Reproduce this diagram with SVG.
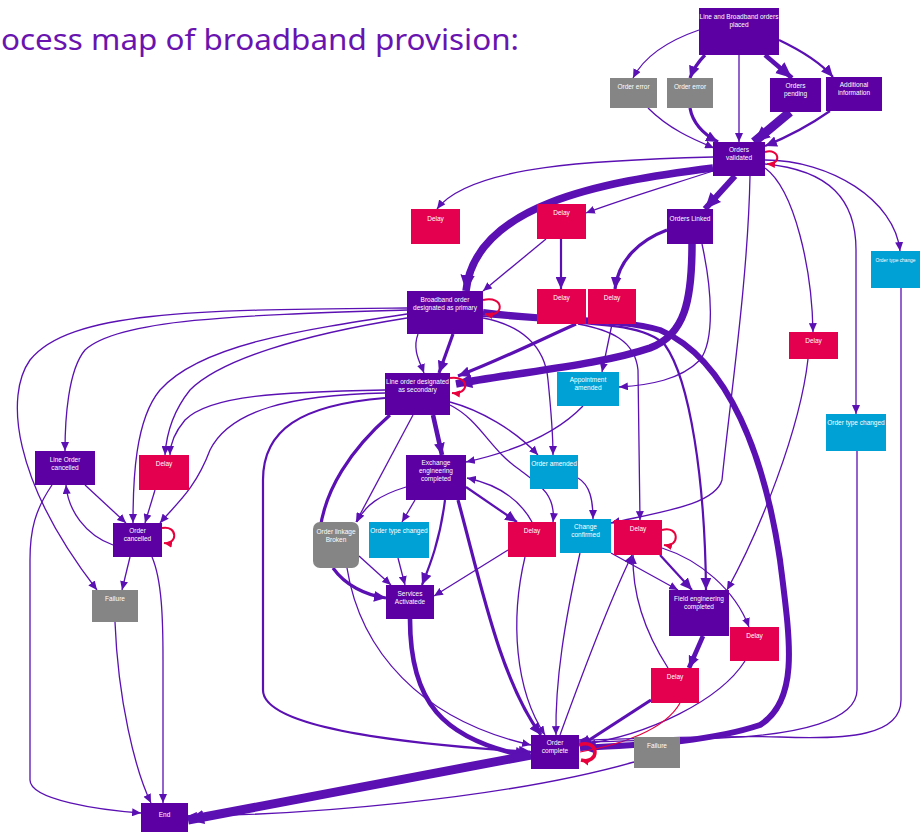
<svg xmlns="http://www.w3.org/2000/svg" width="921" height="832" viewBox="0 0 921 832">
<style>
.p{fill:#5c00a3}.r{fill:#e4004e}.c{fill:#00a1d4}.g{fill:#858585}
.t{font-family:"Liberation Sans","Open Sans",sans-serif;font-size:6.5px;fill:#ffffff;text-anchor:middle}
.e{fill:none;stroke:#5a10b2}
.w1{stroke-width:1.3}.w2{stroke-width:2.2}.w3{stroke-width:3.2}.w4{stroke-width:4.6}.w5{stroke-width:6}.w6{stroke-width:7.5}.w7{stroke-width:9}
.lp{fill:none;stroke:#e8003d;stroke-width:2}
</style>
<defs>
<marker id="ms" viewBox="0 0 10 9" refX="10" refY="4.5" markerWidth="9" markerHeight="8" markerUnits="userSpaceOnUse" orient="auto"><path d="M0,0L10,4.5L0,9z" fill="#5a10b2"/></marker>
<marker id="mm" viewBox="0 0 10 9" refX="10" refY="4.5" markerWidth="12" markerHeight="11" markerUnits="userSpaceOnUse" orient="auto"><path d="M0,0L10,4.5L0,9z" fill="#5a10b2"/></marker>
<marker id="ml" viewBox="0 0 10 9" refX="10" refY="4.5" markerWidth="16" markerHeight="15" markerUnits="userSpaceOnUse" orient="auto"><path d="M0,0L10,4.5L0,9z" fill="#5a10b2"/></marker>
<marker id="mr" viewBox="0 0 10 9" refX="10" refY="4.5" markerWidth="8" markerHeight="8" markerUnits="userSpaceOnUse" orient="auto"><path d="M0,0L10,4.5L0,9z" fill="#e8003d"/></marker>
</defs>
<rect width="921" height="832" fill="#ffffff"/>
<text x="1" y="50" font-family="'Noto Sans','Open Sans','Liberation Sans',sans-serif" font-size="29" fill="#6a14b0" textLength="518" lengthAdjust="spacingAndGlyphs">ocess map of broadband provision:</text>

<g id="edges">
<path class="e w1" d="M699,30C670,40 645,55 633,78" marker-end="url(#ms)"/>
<path class="e w3" d="M705,55C698,62 693,70 690,78" marker-end="url(#mm)"/>
<path class="e w1" d="M739,55L739,142" marker-end="url(#ms)"/>
<path class="e w4" d="M765,55L792,78" marker-end="url(#ml)"/>
<path class="e w2" d="M779,40C800,50 820,62 833,77" marker-end="url(#mm)"/>
<path class="e w1" d="M648,108C670,130 695,140 714,148" marker-end="url(#ms)"/>
<path class="e w3" d="M690,108C693,125 705,135 718,142" marker-end="url(#mm)"/>
<path class="e w7" d="M790,112L754,142" marker-end="url(#ml)"/>
<path class="e w2" d="M830,111C810,125 785,138 765,146" marker-end="url(#mm)"/>
<path class="e w1" d="M713,157C600,160 470,165 437,209" marker-end="url(#ms)"/>
<path class="e w6" d="M713,168C600,182 475,205 466,291" marker-end="url(#ml)"/>
<path class="e w1" d="M713,171C670,185 620,200 586,213" marker-end="url(#ms)"/>
<path class="e w5" d="M735,176L705,209" marker-end="url(#ml)"/>
<path class="e w6" d="M692,244C692,300 685,335 650,348C600,365 520,372 456,384" marker-end="url(#ml)"/>
<path class="e w3" d="M667,230C640,240 618,260 615,289" marker-end="url(#mm)"/>
<path class="e w1" d="M702,244C712,290 715,340 700,360C680,380 650,385 619,387" marker-end="url(#ms)"/>
<path class="e w1" d="M765,168C795,190 812,270 813,332" marker-end="url(#ms)"/>
<path class="e w1" d="M765,164C830,170 856,200 856,250L856,414" marker-end="url(#ms)"/>
<path class="e w1" d="M765,160C830,160 895,200 900,251" marker-end="url(#ms)"/>
<path class="e w1" d="M750,176C748,280 730,400 722,480C715,505 660,512 611,523" marker-end="url(#ms)"/>
<path class="e w1" d="M546,239L483,291" marker-end="url(#ms)"/>
<path class="e w2" d="M561,239L561,289" marker-end="url(#mm)"/>
<path class="e w3" d="M453,334L439,373" marker-end="url(#mm)"/>
<path class="e w1" d="M418,334C412,350 420,362 424,373" marker-end="url(#ms)"/>
<path class="e w1" d="M407,308C200,310 70,310 30,360C5,395 12,480 97,590" marker-end="url(#ms)"/>
<path class="e w1" d="M407,310C250,315 120,318 85,350C68,370 65,420 65,451" marker-end="url(#ms)"/>
<path class="e w1" d="M407,314C300,330 200,345 160,390C135,420 133,480 133,523" marker-end="url(#ms)"/>
<path class="e w1" d="M407,318C300,335 220,360 190,390C170,415 166,440 165,455" marker-end="url(#ms)"/>
<path class="e w1" d="M385,390C280,392 210,395 185,420C175,432 170,445 170,455" marker-end="url(#ms)"/>
<path class="e w1" d="M385,393C290,395 230,410 210,450C195,490 175,505 160,523" marker-end="url(#ms)"/>
<path class="e w2" d="M385,398C300,405 263,430 263,480L263,690C263,730 420,745 531,752" marker-end="url(#mm)"/>
<path class="e w3" d="M390,415C350,450 325,490 320,530"/>
<path class="e w4" d="M433,415L442,455" marker-end="url(#mm)"/>
<path class="e w1" d="M413,415L356,522" marker-end="url(#ms)"/>
<path class="e w1" d="M450,402C480,410 515,430 538,455" marker-end="url(#ms)"/>
<path class="e w1" d="M450,405C480,420 490,450 520,470C540,485 556,495 553,522" marker-end="url(#ms)"/>
<path class="e w3" d="M576,324C540,340 500,360 458,376" marker-end="url(#mm)"/>
<path class="e w5" d="M483,312C560,322 620,318 660,330C730,360 765,460 780,560C790,640 800,700 760,725C700,745 620,745 580,748" marker-end="url(#ml)"/>
<path class="e w2" d="M483,316C580,325 640,320 665,345C690,380 705,480 706,590" marker-end="url(#mm)"/>
<path class="e w1" d="M483,318C520,325 545,345 548,380C552,420 553,440 553,455" marker-end="url(#ms)"/>
<path class="e w1" d="M578,324C610,330 635,340 638,370L640,520" marker-end="url(#ms)"/>
<path class="e w1" d="M612,324L602,372" marker-end="url(#ms)"/>
<path class="e w1" d="M583,406C560,430 520,450 466,462" marker-end="url(#ms)"/>
<path class="e w1" d="M578,478C590,485 593,500 593,519" marker-end="url(#ms)"/>
<path class="e w1" d="M406,487C380,495 365,505 357,522" marker-end="url(#ms)"/>
<path class="e w1" d="M415,500L402,522" marker-end="url(#ms)"/>
<path class="e w2" d="M445,500C440,540 430,565 422,585" marker-end="url(#mm)"/>
<path class="e w3" d="M458,500C480,580 500,680 541,735" marker-end="url(#mm)"/>
<path class="e w2" d="M466,487L517,522" marker-end="url(#mm)"/>
<path class="e w1" d="M532,522C520,500 500,485 467,478" marker-end="url(#ms)"/>
<path class="e w3" d="M333,568C345,585 365,595 386,598" marker-end="url(#mm)"/>
<path class="e w1" d="M359,556L391,585" marker-end="url(#ms)"/>
<path class="e w1" d="M347,568C360,650 420,720 531,745" marker-end="url(#ms)"/>
<path class="e w1" d="M398,558L405,585" marker-end="url(#ms)"/>
<path class="e w1" d="M508,550L434,596" marker-end="url(#ms)"/>
<path class="e w1" d="M525,557C510,620 515,690 545,735" marker-end="url(#ms)"/>
<path class="e w4" d="M410,619C410,700 440,740 531,757" marker-end="url(#ml)"/>
<path class="e w1" d="M580,553C565,620 555,680 556,735" marker-end="url(#ms)"/>
<path class="e w1" d="M611,553L678,590" marker-end="url(#ms)"/>
<path class="e w2" d="M660,555L692,590" marker-end="url(#mm)"/>
<path class="e w1" d="M662,548C700,560 735,590 749,627" marker-end="url(#ms)"/>
<path class="e w1" d="M668,668C650,640 632,600 633,555" marker-end="url(#ms)"/>
<path class="e w1" d="M560,735C580,680 610,600 632,555" marker-end="url(#ms)"/>
<path class="e w4" d="M703,636L689,668" marker-end="url(#mm)"/>
<path class="e w1" d="M745,661C720,700 650,735 580,745" marker-end="url(#ms)"/>
<path class="e w3" d="M651,700L580,746" marker-end="url(#mm)"/>
<path d="M680,703C665,730 620,745 580,752" fill="none" stroke="#e8003d" stroke-width="1.2"/>
<path class="e w1" d="M808,359C800,430 760,530 727,590" marker-end="url(#ms)"/>
<path class="e w1" d="M857,451L857,690C857,720 800,735 720,738C650,740 600,742 579,742" marker-end="url(#ms)"/>
<path class="e w1" d="M901,288L901,700C901,735 850,740 780,737C700,735 620,740 579,740" marker-end="url(#ms)"/>
<path class="e w7" d="M531,755L188,820" marker-end="url(#ml)"/>
<path class="e w1" d="M634,762C500,800 300,815 188,816" marker-end="url(#ms)"/>
<path class="e w1" d="M113,545C85,535 68,510 66,485" marker-end="url(#ms)"/>
<path class="e w1" d="M85,485L126,523" marker-end="url(#ms)"/>
<path class="e w1" d="M130,557L122,590" marker-end="url(#ms)"/>
<path class="e w1" d="M152,557C162,580 163,620 163,660L163,803" marker-end="url(#ms)"/>
<path class="e w1" d="M52,485C35,510 30,530 30,560L30,780C30,800 100,810 141,813" marker-end="url(#ms)"/>
<path class="e w1" d="M115,622C118,700 135,770 151,803" marker-end="url(#ms)"/>
<path class="e w1" d="M155,490L145,523" marker-end="url(#ms)"/>
<path class="lp" d="M765,152C780,148 782,165 767,164" marker-end="url(#mr)"/>
<path class="lp" d="M483,300C505,295 505,318 485,314" marker-end="url(#mr)"/>
<path class="lp" d="M450,378C470,375 470,395 452,393" marker-end="url(#mr)"/>
<path class="lp" d="M662,530C680,525 680,548 664,545" marker-end="url(#mr)"/>
<path class="lp" d="M162,528C178,525 178,545 164,543" marker-end="url(#mr)"/>
<path class="lp" style="stroke-width:3.5" d="M579,745C600,738 600,765 581,760" marker-end="url(#mr)"/>
</g>

<g id="n1"><rect class="p" x="699" y="8" width="80" height="47"/><text class="t" x="739" y="19">Line and Broadband orders</text><text class="t" x="739" y="27">placed</text></g>
<g id="n2"><rect class="g" x="610" y="78" width="47" height="30"/><text class="t" x="633.5" y="89">Order error</text></g>
<g id="n3"><rect class="g" x="667" y="78" width="46" height="30"/><text class="t" x="690" y="89">Order error</text></g>
<g id="n4"><rect class="p" x="770" y="78" width="51" height="34"/><text class="t" x="795.5" y="88">Orders</text><text class="t" x="795.5" y="96">pending</text></g>
<g id="n5"><rect class="p" x="826" y="77" width="56" height="34"/><text class="t" x="854" y="87">Additional</text><text class="t" x="854" y="95">information</text></g>
<g id="n6"><rect class="p" x="713" y="142" width="52" height="34"/><text class="t" x="739" y="152">Orders</text><text class="t" x="739" y="160">validated</text></g>
<g id="n7"><rect class="r" x="411" y="209" width="49" height="35"/><text class="t" x="435.5" y="221">Delay</text></g>
<g id="n8"><rect class="r" x="537" y="204" width="49" height="35"/><text class="t" x="561.5" y="215">Delay</text></g>
<g id="n9"><rect class="p" x="667" y="209" width="46" height="35"/><text class="t" x="690" y="221">Orders Linked</text></g>
<g id="n10"><rect class="p" x="407" y="291" width="76" height="43"/><text class="t" x="445" y="302">Broadband order</text><text class="t" x="445" y="310">designated as primary</text></g>
<g id="n11"><rect class="r" x="537" y="289" width="49" height="35"/><text class="t" x="561.5" y="300">Delay</text></g>
<g id="n12"><rect class="r" x="588" y="289" width="48" height="35"/><text class="t" x="612" y="300">Delay</text></g>
<g id="n13"><rect class="r" x="789" y="332" width="49" height="27"/><text class="t" x="813.5" y="343">Delay</text></g>
<g id="n14"><rect class="c" x="871" y="251" width="49" height="37"/><text class="t" x="895.5" y="262" style="font-size:6px" textLength="40" lengthAdjust="spacingAndGlyphs">Order type change</text></g>
<g id="n15"><rect class="c" x="826" y="414" width="60" height="37"/><text class="t" x="856" y="425">Order type changed</text></g>
<g id="n16"><rect class="p" x="385" y="373" width="65" height="42"/><text class="t" x="417.5" y="384">Line order designated</text><text class="t" x="417.5" y="392">as secondary</text></g>
<g id="n17"><rect class="c" x="557" y="372" width="62" height="34"/><text class="t" x="588" y="382">Appointment</text><text class="t" x="588" y="390">amended</text></g>
<g id="n18"><rect class="p" x="35" y="451" width="60" height="34"/><text class="t" x="65" y="462">Line Order</text><text class="t" x="65" y="470">cancelled</text></g>
<g id="n19"><rect class="r" x="139" y="455" width="50" height="35"/><text class="t" x="164" y="466">Delay</text></g>
<g id="n20"><rect class="p" x="113" y="523" width="49" height="34"/><text class="t" x="137.5" y="533">Order</text><text class="t" x="137.5" y="541">cancelled</text></g>
<g id="n21"><rect class="g" x="92" y="590" width="46" height="32"/><text class="t" x="115" y="601">Failure</text></g>
<g id="n22"><rect class="p" x="406" y="455" width="60" height="45"/><text class="t" x="436" y="465">Exchange</text><text class="t" x="436" y="473">engineering</text><text class="t" x="436" y="481">completed</text></g>
<g id="n23"><rect class="c" x="530" y="455" width="48" height="34"/><text class="t" x="554" y="466">Order amended</text></g>
<g id="n24"><rect class="g" x="313" y="522" width="46" height="46" rx="7"/><text class="t" x="336" y="534">Order linkage</text><text class="t" x="336" y="542">Broken</text></g>
<g id="n25"><rect class="c" x="369" y="522" width="60" height="36"/><text class="t" x="399" y="533">Order type changed</text></g>
<g id="n26"><rect class="r" x="508" y="522" width="48" height="35"/><text class="t" x="532" y="533">Delay</text></g>
<g id="n27"><rect class="c" x="560" y="519" width="51" height="34"/><text class="t" x="585.5" y="529">Change</text><text class="t" x="585.5" y="537">confirmed</text></g>
<g id="n28"><rect class="r" x="614" y="520" width="48" height="35"/><text class="t" x="638" y="531">Delay</text></g>
<g id="n29"><rect class="p" x="386" y="585" width="48" height="34"/><text class="t" x="410" y="596">Services</text><text class="t" x="410" y="604">Activatede</text></g>
<g id="n30"><rect class="p" x="669" y="590" width="60" height="46"/><text class="t" x="699" y="601">Field engineering</text><text class="t" x="699" y="609">completed</text></g>
<g id="n31"><rect class="r" x="730" y="627" width="49" height="34"/><text class="t" x="754.5" y="638">Delay</text></g>
<g id="n32"><rect class="r" x="651" y="668" width="48" height="35"/><text class="t" x="675" y="679">Delay</text></g>
<g id="n33"><rect class="p" x="531" y="735" width="48" height="34"/><text class="t" x="555" y="745">Order</text><text class="t" x="555" y="753">complete</text></g>
<g id="n34"><rect class="g" x="634" y="737" width="46" height="31"/><text class="t" x="657" y="748">Failure</text></g>
<g id="n35"><rect class="p" x="141" y="803" width="47" height="29"/><text class="t" x="164.5" y="817">End</text></g>
</svg>
